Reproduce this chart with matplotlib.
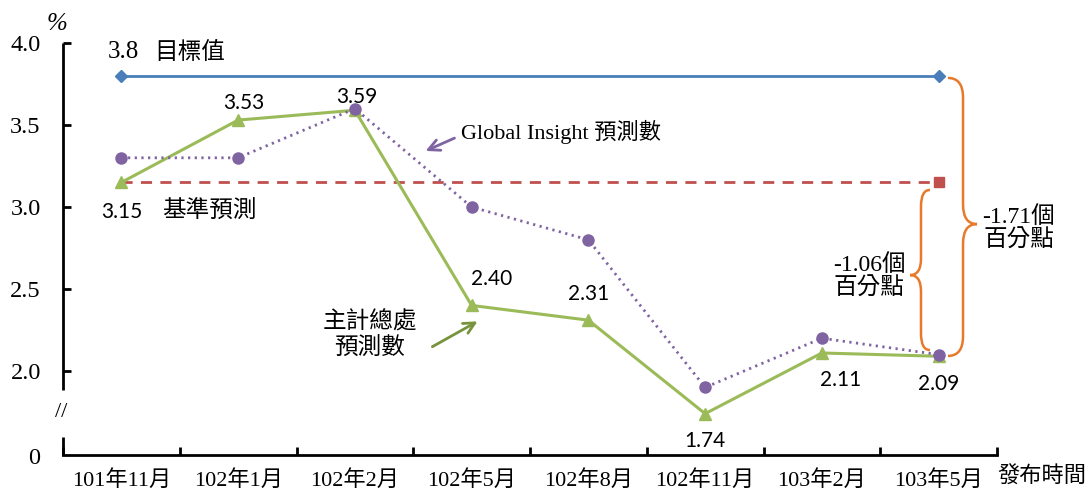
import matplotlib
matplotlib.use("Agg")
import matplotlib.pyplot as plt
from matplotlib.path import Path
from matplotlib.patches import PathPatch

categories = ['101年11月', '102年1月', '102年2月', '102年5月', '102年8月',
              '102年11月', '103年2月', '103年5月']
target = [3.8, 3.8, 3.8, 3.8, 3.8, 3.8, 3.8, 3.8]
baseline = [3.15, 3.15, 3.15, 3.15, 3.15, 3.15, 3.15, 3.15]
global_insight = [3.3, 3.3, 3.6, 3.0, 2.8, 1.9, 2.2, 2.1]
dgbas = [3.15, 3.53, 3.59, 2.40, 2.31, 1.74, 2.11, 2.09]
dgbas_labels = ['3.15', '3.53', '3.59', '2.40', '2.31', '1.74', '2.11', '2.09']
yticks = [2.0, 2.5, 3.0, 3.5, 4.0]
ytick_labels = ['2.0', '2.5', '3.0', '3.5', '4.0']

SERIF = ['Liberation Serif', 'Noto Sans CJK TC']
CJK = ['Noto Sans CJK TC', 'Liberation Serif']
NUM = ['Lato', 'DejaVu Sans']

BLUE = '#4A7EBB'
RED = '#C0504D'
PURPLE = '#8064A2'
GREEN = '#9BBB59'
ORANGE = '#E8792B'

fig = plt.figure(figsize=(10.85, 4.92), dpi=100)
ax = fig.add_axes([63 / 1085, 37 / 492, 934 / 1085, 412 / 492])
x = list(range(len(categories)))
ybot = 1.488
ax.set_xlim(-0.5, 7.5)
ax.set_ylim(ybot, 4.0)

ax.plot(x, target, color=BLUE, lw=2, marker='D', ms=6, markevery=[0, 7], zorder=3)
ax.plot(x, baseline, color=RED, lw=2, ls=(0, (4, 3)), marker='s', ms=7,
        markevery=[7], zorder=3)
ax.plot(x, dgbas, color=GREEN, lw=2.2, marker='^', ms=9, zorder=4)
ax.plot(x, global_insight, color=PURPLE, lw=2, ls=(0, (0.8, 1.6)), marker='o',
        ms=8, zorder=5)

# data labels (pixel offsets)
offsets = [(0, -30), (6, 17), (2, 13), (20, 26), (0, 26), (0, -27), (19, -27), (0, -28)]
for i, (lab, off) in enumerate(zip(dgbas_labels, offsets)):
    ax.annotate(lab, (x[i], dgbas[i]), xytext=off, textcoords='offset pixels',
                ha='center', va='center', fontsize=15, family=NUM, color='black')

# spines & axes
for s in ['top', 'right', 'left']:
    ax.spines[s].set_visible(False)
ax.spines['bottom'].set_linewidth(2)
tr = ax.get_yaxis_transform()
ax.plot([0, 0], [4.0, 1.884], color='black', lw=2, transform=tr, clip_on=False,
        solid_capstyle='butt')
ax.plot([0, 0], [1.598, ybot], color='black', lw=2, transform=tr, clip_on=False,
        solid_capstyle='butt')
ax.text(-0.002, 1.75, '//', transform=tr, ha='center', va='center', fontsize=16,
        family=SERIF)

ax.set_yticks(yticks)
ax.set_yticklabels(ytick_labels, family=SERIF, fontsize=17.5)
ax.tick_params(axis='y', direction='in', length=6, width=2, pad=16)
ax.text(-0.025, ybot - 0.02, '0', transform=tr, ha='right', va='center', fontsize=17.5,
        family=SERIF)

ax.set_xticks(x)
ax.set_xticklabels(categories, family=SERIF, fontsize=16)
ax.tick_params(axis='x', length=0, pad=11)
ax.set_xticks([i - 0.5 for i in range(len(categories) + 1)], minor=True)
ax.tick_params(axis='x', which='minor', direction='in', length=6, width=2)

ax.text(1.0, -0.052, '發布時間', transform=ax.transAxes, ha='left', va='center',
        fontsize=16, family=CJK)
ax.text(-0.006, 1.045, '%', transform=ax.transAxes, ha='center', va='center',
        fontsize=18, family=SERIF, style='italic')

# annotations
ax.text(-0.115, 3.945, '3.8', ha='left', va='center', fontsize=18, family=SERIF)
ax.text(0.285, 3.945, '目標值', ha='left', va='center', fontsize=17, family=CJK)
ax.text(0.35, 2.975, '基準預測', ha='left', va='center', fontsize=17, family=CJK)
ax.text(2.91, 3.457, 'Global Insight 預測數', ha='left', va='center', fontsize=16,
        family=SERIF)
ax.annotate('', xy=(2.584, 3.335), xytext=(2.875, 3.427),
            arrowprops=dict(arrowstyle='->,head_length=0.8,head_width=0.4',
                            color=PURPLE, lw=2))
ax.text(2.13, 2.22, '主計總處\n預測數', ha='center', va='center', fontsize=17,
        family=CJK, linespacing=1.2)
ax.annotate('', xy=(3.072, 2.311), xytext=(2.643, 2.140),
            arrowprops=dict(arrowstyle='->,head_length=0.8,head_width=0.4',
                            color='#77933C', lw=2))


def brace(x0, x1, x2, ytop, ymid, ybottom, r):
    verts = [(x0, ytop), (x1, ytop), (x1, ytop - r),
             (x1, ymid + r), (x1, ymid), (x2, ymid),
             (x1, ymid), (x1, ymid - r),
             (x1, ybottom + r), (x1, ybottom), (x0, ybottom)]
    codes = [Path.MOVETO, Path.CURVE3, Path.CURVE3,
             Path.LINETO, Path.CURVE3, Path.CURVE3,
             Path.CURVE3, Path.CURVE3,
             Path.LINETO, Path.CURVE3, Path.CURVE3]
    ax.add_patch(PathPatch(Path(verts, codes), fill=False, edgecolor=ORANGE,
                           lw=1.8, clip_on=False, zorder=6))


brace(7.08, 7.209, 7.329, 3.787, 2.896, 2.092, 0.12)
brace(6.926, 6.849, 6.755, 3.104, 2.585, 2.128, 0.1)

ax.text(1.0235, 2.866, '-1.71個\n百分點', transform=tr, ha='center', va='center',
        fontsize=17, family=SERIF, linespacing=1.1)
ax.text(6.404, 2.573, '-1.06個\n百分點', ha='center', va='center',
        fontsize=17, family=SERIF, linespacing=1.1)

fig.savefig('out.png', dpi=100)
